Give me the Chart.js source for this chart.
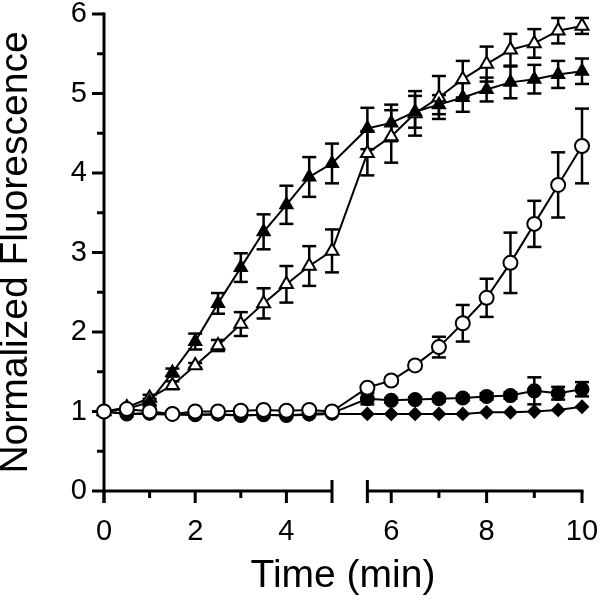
<!DOCTYPE html>
<html>
<head>
<meta charset="utf-8">
<script src="https://cdn.jsdelivr.net/npm/chart.js@4.4.1/dist/chart.umd.min.js"></script>
<style>
  html, body { margin: 0; padding: 0; background: #fff; }
  #caja { width: 600px; height: 601px; }
</style>
</head>
<body>
<div id="caja"><canvas id="grafico"></canvas></div>
<script>
// tiempos (min)
const tiempos = [0, 0.5, 1, 1.5, 2, 2.5, 3, 3.5, 4, 4.5, 5, 5.5, 6, 6.5, 7, 7.5, 8, 8.5, 9, 9.5, 10];

const trianguloLleno = [1.00, 1.03, 1.12, 1.49, 1.88, 2.36, 2.81, 3.26, 3.60, 3.95, 4.12, 4.56, 4.63, 4.77, 4.86, 4.95, 5.05, 5.14, 5.18, 5.24, 5.28];
const trianguloLlenoErr = [0, 0.02, 0.04, 0.05, 0.10, 0.13, 0.18, 0.22, 0.24, 0.25, 0.25, 0.26, 0.23, 0.20, 0.12, 0.18, 0.15, 0.20, 0.18, 0.17, 0.16];

const trianguloVacio = [1.00, 1.05, 1.17, 1.33, 1.58, 1.83, 2.10, 2.36, 2.60, 2.83, 3.02, 4.25, 4.46, 4.75, 4.95, 5.18, 5.37, 5.55, 5.63, 5.79, 5.85];
const trianguloVacioErr = [0, 0.02, 0.04, 0.05, 0.03, 0.07, 0.15, 0.19, 0.23, 0.25, 0.27, 0.28, 0.33, 0.28, 0.27, 0.23, 0.22, 0.20, 0.18, 0.16, 0.10];

const circuloVacio = [1.00, 1.03, 1.00, 0.97, 1.00, 1.00, 1.01, 1.02, 1.01, 1.02, 1.00, 1.30, 1.39, 1.58, 1.81, 2.11, 2.43, 2.87, 3.36, 3.85, 4.34];
const circuloVacioErr = [0, 0, 0, 0, 0, 0, 0, 0, 0, 0, 0, 0.02, 0.03, 0.04, 0.13, 0.23, 0.24, 0.38, 0.29, 0.41, 0.47];

const circuloLleno = [1.00, 0.97, 0.98, 0.97, 0.96, 0.97, 0.95, 0.96, 0.95, 0.97, 0.98, 1.16, 1.14, 1.15, 1.16, 1.17, 1.19, 1.20, 1.26, 1.23, 1.28];
const circuloLlenoErr = [0, 0, 0, 0, 0, 0, 0, 0, 0, 0, 0, 0.07, 0.03, 0.03, 0.03, 0.03, 0.04, 0.04, 0.17, 0.08, 0.09];

const rombo = [1.00, 0.97, 0.97, 0.96, 0.96, 0.96, 0.95, 0.96, 0.95, 0.96, 0.97, 0.97, 0.97, 0.97, 0.97, 0.97, 0.99, 0.99, 1.00, 1.02, 1.06];

// ticks de los ejes
const ticksX = [0, 2, 4, 6, 8, 10];
const ticksXMenores = [1, 3, 7, 9];
const ticksY = [0, 1, 2, 3, 4, 5, 6];
const ticksYMenores = [0.5, 1.5, 2.5, 3.5, 4.5, 5.5];

// eje cortado entre 5 y 5.5
const CORTE_DESDE = 5, CORTE_HASTA = 5.5;
const FRAC_IZQ = 0.477, FRAC_DER = 0.551;

class EjeCortado extends Chart.LinearScale {
  getPixelForValue(v) {
    if (v === null || v === undefined || isNaN(v)) return NaN;
    let f;
    if (v <= CORTE_DESDE) {
      f = (v - this.min) / (CORTE_DESDE - this.min) * FRAC_IZQ;
    } else if (v >= CORTE_HASTA) {
      f = FRAC_DER + (v - CORTE_HASTA) / (this.max - CORTE_HASTA) * (1 - FRAC_DER);
    } else {
      f = FRAC_IZQ + (v - CORTE_DESDE) / (CORTE_HASTA - CORTE_DESDE) * (FRAC_DER - FRAC_IZQ);
    }
    return this.getPixelForDecimal(f);
  }
}
EjeCortado.id = 'ejeCortado';
EjeCortado.defaults = {};
Chart.register(EjeCortado);

const fuente = "'Liberation Sans', Arial, sans-serif";

const puntos = (vals) => tiempos.map((t, i) => ({ x: t, y: vals[i] }));

function linea(ctx, x1, y1, x2, y2) {
  ctx.beginPath();
  ctx.moveTo(x1, y1);
  ctx.lineTo(x2, y2);
  ctx.stroke();
}

const ejes = {
  id: 'ejes',
  beforeDatasetsDraw(chart) {
    const { ctx, scales: { x, y } } = chart;
    const y0 = y.getPixelForValue(0);
    const x0 = x.getPixelForValue(0);
    ctx.save();
    ctx.strokeStyle = '#000';
    ctx.lineWidth = 3;
    // eje y
    linea(ctx, x0, y.getPixelForValue(6) - 1.5, x0, y0 + 12);
    ticksY.forEach(v => linea(ctx, x0 - 12, y.getPixelForValue(v), x0, y.getPixelForValue(v)));
    ticksYMenores.forEach(v => linea(ctx, x0 - 7, y.getPixelForValue(v), x0, y.getPixelForValue(v)));
    // eje x en dos tramos
    linea(ctx, x0, y0, x.getPixelForValue(CORTE_DESDE), y0);
    linea(ctx, x.getPixelForValue(CORTE_HASTA), y0, x.getPixelForValue(10) + 1.5, y0);
    ticksX.forEach(v => linea(ctx, x.getPixelForValue(v), y0, x.getPixelForValue(v), y0 + 12));
    ticksXMenores.forEach(v => linea(ctx, x.getPixelForValue(v), y0, x.getPixelForValue(v), y0 + 7));
    [CORTE_DESDE, CORTE_HASTA].forEach(v => linea(ctx, x.getPixelForValue(v), y0 - 11, x.getPixelForValue(v), y0 + 12));
    ctx.restore();
  }
};

const barrasError = {
  id: 'barrasError',
  beforeDatasetsDraw(chart) {
    const { ctx, scales: { x, y } } = chart;
    ctx.save();
    ctx.strokeStyle = '#000';
    ctx.lineWidth = 2.5;
    chart.data.datasets.forEach(ds => {
      if (!ds.errores) return;
      ds.data.forEach((p, i) => {
        const e = ds.errores[i];
        if (!e) return;
        const px = x.getPixelForValue(p.x);
        const yArriba = y.getPixelForValue(p.y + e);
        const yAbajo = y.getPixelForValue(p.y - e);
        linea(ctx, px, yArriba, px, yAbajo);
        linea(ctx, px - 7, yArriba, px + 7, yArriba);
        linea(ctx, px - 7, yAbajo, px + 7, yAbajo);
      });
    });
    ctx.restore();
  }
};

const comun = {
  borderColor: '#000',
  borderWidth: 2,
  pointBorderColor: '#000',
  pointBorderWidth: 2,
  tension: 0,
  clip: false
};

new Chart(document.getElementById('grafico'), {
  type: 'line',
  data: {
    datasets: [
      { ...comun, label: 'Circulo vacio', data: puntos(circuloVacio), errores: circuloVacioErr,
        pointStyle: 'circle', pointRadius: 7, pointBackgroundColor: '#fff' },
      { ...comun, label: 'Triangulo lleno', data: puntos(trianguloLleno), errores: trianguloLlenoErr,
        pointStyle: 'triangle', pointRadius: 7, pointBackgroundColor: '#000' },
      { ...comun, label: 'Triangulo vacio', data: puntos(trianguloVacio), errores: trianguloVacioErr,
        pointStyle: 'triangle', pointRadius: 7.5, pointBackgroundColor: '#fff' },
      { ...comun, label: 'Circulo lleno', data: puntos(circuloLleno), errores: circuloLlenoErr,
        pointStyle: 'circle', pointRadius: 6.5, pointBackgroundColor: '#000' },
      { ...comun, label: 'Rombo', data: puntos(rombo),
        pointStyle: 'rectRot', pointRadius: 6, pointBackgroundColor: '#000' }
    ]
  },
  options: {
    responsive: true,
    maintainAspectRatio: false,
    animation: false,
    layout: { padding: { top: 14, right: 18, left: 0, bottom: 0 } },
    plugins: {
      legend: { display: false },
      tooltip: { enabled: false }
    },
    scales: {
      x: {
        type: 'ejeCortado',
        min: 0,
        max: 10,
        afterBuildTicks: s => { s.ticks = ticksX.map(v => ({ value: v })); },
        afterFit: s => { s.height = 110; s.paddingLeft = 0; s.paddingRight = 0; },
        grid: { display: false, drawTicks: false },
        border: { display: false },
        ticks: {
          color: '#000',
          font: { size: 29, family: fuente },
          padding: 24,
          maxRotation: 0,
          autoSkip: false,
          callback: v => String(v)
        },
        title: {
          display: true,
          text: 'Time (min)',
          color: '#000',
          font: { size: 39, family: fuente, lineHeight: 0.85 },
          padding: { top: 0, bottom: 8 }
        }
      },
      y: {
        min: 0,
        max: 6,
        afterBuildTicks: s => { s.ticks = ticksY.map(v => ({ value: v })); },
        afterFit: s => { s.width = 104; s.paddingTop = 0; s.paddingBottom = 0; },
        grid: { display: false, drawTicks: false },
        border: { display: false },
        ticks: {
          color: '#000',
          font: { size: 29, family: fuente },
          padding: 17,
          callback: v => String(v)
        },
        title: {
          display: true,
          text: 'Normalized Fluorescence',
          color: '#000',
          font: { size: 39, family: fuente, lineHeight: 0.85 },
          padding: { top: 0, bottom: 0 }
        }
      }
    }
  },
  plugins: [ejes, barrasError]
});
</script>
</body>
</html>
